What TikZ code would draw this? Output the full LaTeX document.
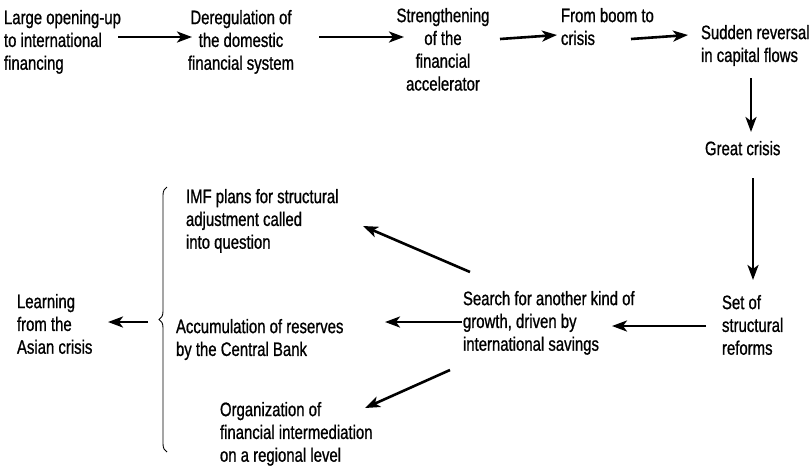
\documentclass[tikz,border=0pt]{standalone}
\usepackage{fontspec}
\usetikzlibrary{arrows.meta,calc,decorations.pathreplacing}
\newfontfamily\diafamily[FakeStretch=0.765,FakeBold=0.9]{Liberation Sans}
\newcommand\diafont{\diafamily\fontsize{19.5}{22.8}\selectfont}

\tikzset{
  lbl/.style={inner sep=0pt, outer sep=0pt, align=left, font=\diafont, anchor=north west},
  clbl/.style={lbl, align=center, anchor=north},
  arr/.style={line width=2.6pt, -{Stealth[length=15pt,width=11pt,inset=4pt]}},
  bracestyle/.style={line width=0.9pt, decorate, decoration={brace, amplitude=8pt}},
}

\begin{document}
\begin{tikzpicture}[x=1pt, y=-1pt]
  \useasboundingbox (0,0) rectangle (811,475);

  % top row
  \node[lbl]  (open)     at (4,10)    {Large opening-up\\to international\\financing};
  \node[clbl] (dereg)    at (241,10)  {Deregulation of\\the domestic\\financial system};
  \node[clbl] (accel)    at (443,8)   {Strengthening\\of the\\financial\\accelerator};
  \node[lbl]  (boom)     at (561,8)   {From boom to\\crisis};
  \node[lbl]  (reversal) at (701,25)  {Sudden reversal\\in capital flows};
  \node[lbl]  (crisis)   at (705,141) {Great crisis};
  \node[lbl]  (reforms)  at (722,295) {Set of\\structural\\reforms};

  % lower part
  \node[lbl]  (search)   at (463,291) {Search for another kind of\\growth, driven by\\international savings};
  \node[lbl]  (imf)      at (186,189) {IMF plans for structural\\adjustment called\\into question};
  \node[lbl]  (reserves) at (176,319) {Accumulation of reserves\\by the Central Bank};
  \node[lbl]  (regional) at (220,402) {Organization of\\financial intermediation\\on a regional level};
  \node[lbl]  (learning) at (17,294)  {Learning\\from the\\Asian crisis};

  % chain of the crisis
  \draw[arr] ($(open.north west)+(114,27)$) -- ($(dereg.north)+(-49,27)$);
  \draw[arr] ($(dereg.north)+(78,27)$) -- ($(accel.north)+(-39,29)$);
  \draw[arr] ($(accel.north)+(57,31)$) -- ($(boom.north west)+(-4,27)$);
  \draw[arr] ($(boom.north west)+(70,31)$) -- ($(reversal.north west)+(-13,10)$);
  \draw[arr] ($(reversal.north west)+(50,53)$) -- ($(crisis.north west)+(46,-9)$);
  \draw[arr] ($(crisis.north west)+(48,37)$) -- ($(reforms.north west)+(31,-15)$);
  \draw[arr] ($(reforms.north west)+(-16,31)$) -- ($(search.north west)+(149,35)$);

  % consequences
  \draw[arr] ($(search.north west)+(7,-19)$) -- ($(imf.north west)+(177,37)$);
  \draw[arr] ($(search.north west)+(-1,31)$) -- ($(reserves.north west)+(209,3)$);
  \draw[arr] ($(search.north west)+(-13,79)$) -- ($(regional.north west)+(145,6)$);

  % brace grouping the consequences
  \draw[bracestyle] ($(reserves.north west)+(-9,133)$) -- ($(reserves.north west)+(-9,-132)$);
  \draw[arr] ($(reserves.north west)+(-28,3)$) -- ($(learning.north west)+(91,28)$);
\end{tikzpicture}
\end{document}
